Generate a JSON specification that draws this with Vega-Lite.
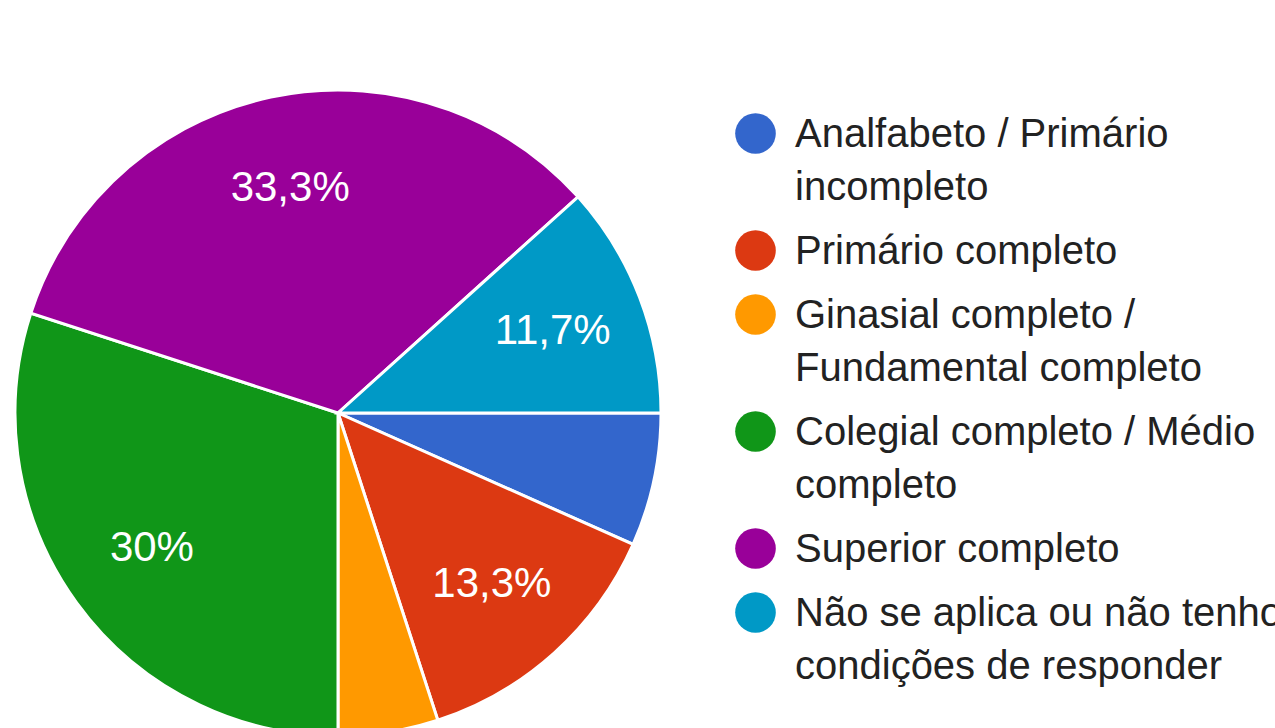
{
  "$schema": "https://vega.github.io/schema/vega-lite/v6.json",
  "width": 676,
  "height": 630,
  "autosize": {"type": "none"},
  "padding": {"left": 0, "top": 98, "right": 599, "bottom": 0},
  "background": "white",
  "config": {"view": {"stroke": null}},
  "data": {
    "values": [
      {"escolaridade": "Analfabeto / Primário incompleto", "respostas": 4, "ordem": 1, "rotulo": ""},
      {"escolaridade": "Primário completo", "respostas": 8, "ordem": 2, "rotulo": "13,3%"},
      {"escolaridade": "Ginasial completo / Fundamental completo", "respostas": 3, "ordem": 3, "rotulo": ""},
      {"escolaridade": "Colegial completo / Médio completo", "respostas": 18, "ordem": 4, "rotulo": "30%"},
      {"escolaridade": "Superior completo", "respostas": 20, "ordem": 5, "rotulo": "33,3%"},
      {"escolaridade": "Não se aplica ou não tenho condições de responder", "respostas": 7, "ordem": 6, "rotulo": "11,7%"}
    ]
  },
  "encoding": {
    "theta": {"field": "respostas", "type": "quantitative", "stack": true, "scale": {"range": [1.5707963, 7.8539816]}},
    "order": {"field": "ordem", "type": "quantitative"}
  },
  "layer": [
    {
      "mark": {"type": "arc", "outerRadius": 323, "stroke": "white", "strokeWidth": 3},
      "encoding": {
        "color": {
          "field": "escolaridade",
          "type": "nominal",
          "scale": {
            "domain": ["Analfabeto / Primário incompleto", "Primário completo", "Ginasial completo / Fundamental completo", "Colegial completo / Médio completo", "Superior completo", "Não se aplica ou não tenho condições de responder"],
            "range": ["#3366cc", "#dc3912", "#ff9900", "#109618", "#990099", "#0099c6"]
          },
          "legend": {
            "orient": "none",
            "legendX": 735,
            "legendY": 15,
            "title": null,
            "symbolType": "circle",
            "symbolSize": 1650,
            "symbolStrokeWidth": 0,
            "symbolOpacity": 1,
            "labelFont": "Liberation Sans",
            "labelFontSize": 40,
            "labelColor": "#222222",
            "labelLimit": 700,
            "labelOffset": 19,
            "labelBaseline": "top",
            "rowPadding": 22,
            "labelExpr": "datum.label == 'Analfabeto / Primário incompleto' ? ['Analfabeto / Primário', 'incompleto'] : datum.label == 'Ginasial completo / Fundamental completo' ? ['Ginasial completo /', 'Fundamental completo'] : datum.label == 'Colegial completo / Médio completo' ? ['Colegial completo / Médio', 'completo'] : datum.label == 'Não se aplica ou não tenho condições de responder' ? ['Não se aplica ou não tenho', 'condições de responder'] : datum.label",
            "encoding": {
              "labels": {"dy": {"value": -19}, "lineHeight": {"value": 53}}
            }
          }
        }
      }
    },
    {
      "mark": {"type": "text", "radius": 230, "fontSize": 42, "font": "Liberation Sans", "fill": "white", "align": "center", "baseline": "middle"},
      "encoding": {"text": {"field": "rotulo", "type": "nominal"}}
    }
  ]
}
